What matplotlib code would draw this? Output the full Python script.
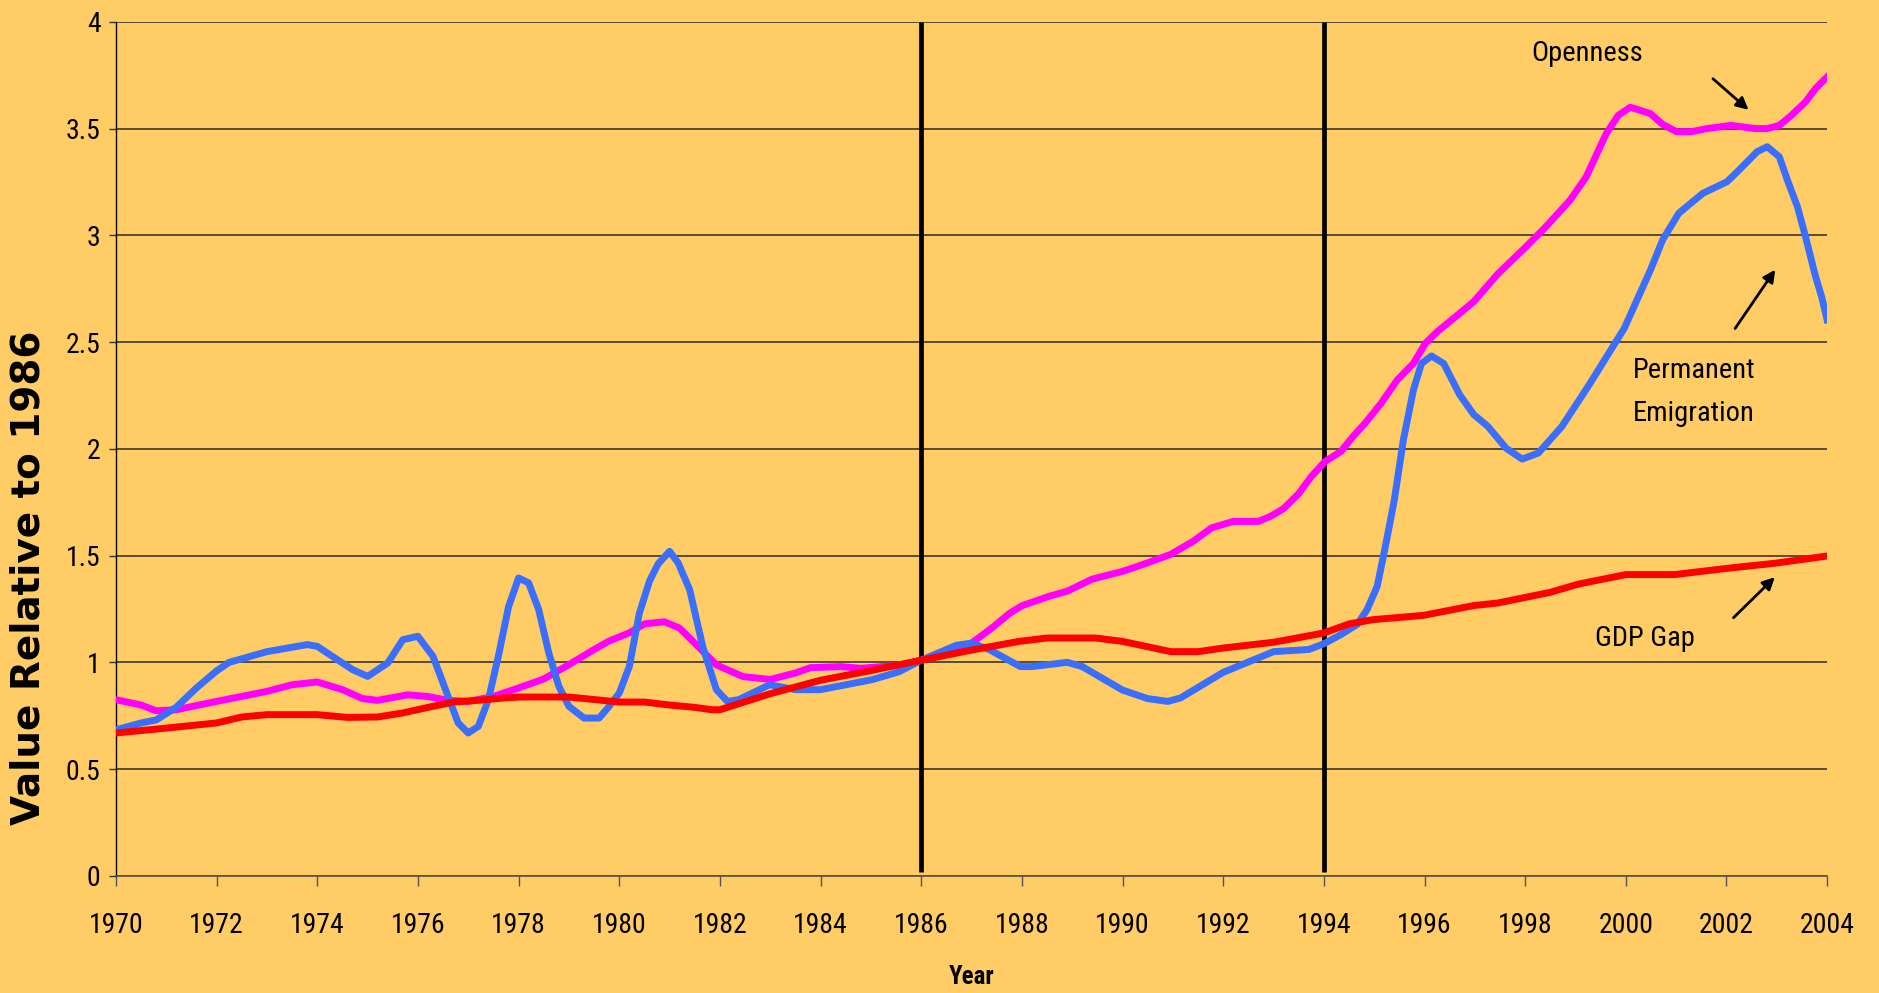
import matplotlib
matplotlib.use("Agg")
import matplotlib.pyplot as plt
from matplotlib import font_manager as fm

# Openness (magenta)
open_x = [1970, 1970.5, 1970.8, 1971.2, 1972, 1973, 1973.5, 1974, 1974.5, 1974.9,
          1975.2, 1975.8, 1976.2, 1976.6, 1977, 1977.5, 1978, 1978.5, 1979, 1979.5,
          1979.8, 1980.2, 1980.5, 1980.9, 1981.2, 1981.5, 1981.93, 1982.46, 1983, 1983.5,
          1983.8, 1984.4, 1984.8, 1985.6, 1986, 1987, 1987.4, 1987.76, 1988, 1988.55,
          1988.9, 1989.4, 1990, 1990.5, 1990.95, 1991.4, 1991.77, 1992.2, 1992.7, 1992.95,
          1993.2, 1993.5, 1993.75, 1994.02, 1994.34, 1994.58, 1994.82, 1995.14, 1995.46, 1995.78,
          1996.02, 1996.26, 1996.66, 1996.98, 1997.46, 1998.01, 1998.41, 1998.89, 1999.21, 1999.61,
          1999.85, 2000.09, 2000.49, 2000.73, 2001.01, 2001.29, 2001.61, 2002.09, 2002.57, 2002.81,
          2003.05, 2003.29, 2003.57, 2003.77, 2004]
open_y = [0.825, 0.80, 0.773, 0.778, 0.817, 0.864, 0.895, 0.908, 0.872, 0.83,
          0.822, 0.848, 0.84, 0.822, 0.817, 0.84, 0.88, 0.922, 0.989, 1.06,
          1.10, 1.138, 1.18, 1.19, 1.16, 1.09, 0.988, 0.933, 0.92, 0.95,
          0.975, 0.98, 0.972, 0.987, 1.01, 1.09, 1.16, 1.23, 1.265, 1.31,
          1.333, 1.39, 1.426, 1.466, 1.505, 1.566, 1.63, 1.66, 1.66, 1.685,
          1.72, 1.79, 1.87, 1.94, 1.988, 2.058, 2.12, 2.214, 2.323, 2.40,
          2.495, 2.55, 2.627, 2.69, 2.82, 2.945, 3.04, 3.164, 3.273, 3.476,
          3.562, 3.60, 3.57, 3.52, 3.485, 3.485, 3.50, 3.515, 3.50, 3.50,
          3.515, 3.562, 3.625, 3.688, 3.742]

# Permanent emigration (blue)
emig_x = [1970, 1970.5, 1970.8, 1971.2, 1971.6, 1972, 1972.25, 1973, 1973.8, 1974,
          1974.3, 1974.7, 1975, 1975.4, 1975.7, 1976, 1976.3, 1976.6, 1976.8, 1977,
          1977.2, 1977.4, 1977.6, 1977.8, 1978, 1978.2, 1978.4, 1978.6, 1978.8, 1979,
          1979.3, 1979.6, 1979.8, 1980, 1980.2, 1980.4, 1980.6, 1980.77, 1981.0, 1981.17,
          1981.4, 1981.66, 1981.93, 1982.15, 1982.37, 1982.99, 1983.5, 1984, 1985.03, 1985.56,
          1986, 1986.7, 1987, 1987.35, 1987.97, 1988.2, 1988.9, 1989.2, 1990, 1990.5,
          1990.9, 1991.15, 1992, 1993, 1993.7, 1994, 1994.34, 1994.66, 1994.86, 1995.06,
          1995.22, 1995.4, 1995.58, 1995.78, 1995.94, 1996.14, 1996.38, 1996.7, 1996.98, 1997.26,
          1997.62, 1997.94, 1998.26, 1998.73, 1999.29, 1999.97, 2000.49, 2000.73, 2001.05, 2001.53,
          2002.01, 2002.25, 2002.61, 2002.81, 2003.05, 2003.21, 2003.41, 2003.57, 2003.77, 2003.89,
          2004]
emig_y = [0.684, 0.716, 0.73, 0.79, 0.88, 0.96, 1.0, 1.05, 1.083, 1.075,
          1.028, 0.966, 0.934, 0.997, 1.106, 1.122, 1.028, 0.84, 0.716, 0.669,
          0.70, 0.825, 1.03, 1.26, 1.395, 1.372, 1.247, 1.044, 0.888, 0.794,
          0.739, 0.739, 0.794, 0.856, 0.98, 1.23, 1.38, 1.46, 1.52, 1.466,
          1.34, 1.073, 0.872, 0.817, 0.825, 0.895, 0.872, 0.872, 0.919, 0.956,
          1.01, 1.08, 1.09, 1.06, 0.98, 0.98, 1.00, 0.98, 0.87, 0.83,
          0.817, 0.833, 0.953, 1.05, 1.06, 1.087, 1.13, 1.177, 1.247, 1.356,
          1.54, 1.76, 2.042, 2.276, 2.40, 2.435, 2.40, 2.253, 2.16, 2.105,
          2.003, 1.952, 1.98, 2.105, 2.307, 2.565, 2.838, 2.978, 3.103, 3.197,
          3.251, 3.306, 3.392, 3.415, 3.368, 3.259, 3.134, 2.994, 2.807, 2.713,
          2.604]

# GDP gap (red)
gdp_x = [1970, 1971, 1972, 1972.5, 1973, 1974, 1974.6, 1975.2, 1975.7, 1976.2,
         1976.7, 1977.2, 1977.7, 1978, 1979, 1980, 1980.5, 1981, 1981.5, 1981.84,
         1982, 1982.46, 1983, 1984, 1985.03, 1986, 1986.97, 1987.94, 1988.5, 1989.46,
         1990, 1990.96, 1991.5, 1992, 1993, 1994, 1994.5, 1994.98, 1995.98, 1996.98,
         1997.46, 1998.5, 1999.05, 2000, 2000.97, 2002, 2002.96, 2004]
gdp_y = [0.669, 0.692, 0.716, 0.744, 0.755, 0.755, 0.742, 0.744, 0.763, 0.789,
         0.814, 0.822, 0.833, 0.8375, 0.8375, 0.814, 0.814, 0.80, 0.789, 0.778,
         0.778, 0.8125, 0.853, 0.916, 0.963, 1.01, 1.056, 1.098, 1.114, 1.114,
         1.098, 1.05, 1.05, 1.067, 1.094, 1.1375, 1.18, 1.20, 1.22, 1.266,
         1.278, 1.328, 1.366, 1.411, 1.411, 1.44, 1.464, 1.498]

break_years = [1986, 1994]
x_ticks = list(range(1970, 2005, 2))
y_ticks = [0, 0.5, 1, 1.5, 2, 2.5, 3, 3.5, 4]
y_tick_labels = ["0", "0.5", "1", "1.5", "2", "2.5", "3", "3.5", "4"]

bg = "#FFCC66"


def weight_num(w):
    if isinstance(w, str):
        return fm.weight_dict.get(w, 400)
    return w


def narrow_font(bold, size):
    # look for an Arial-Narrow-like condensed face, else plain Liberation Sans
    prefs = ["liberation sans narrow", "roboto condensed", "open sans condensed",
             "noto sans", "dejavu sans", "roboto", "open sans", "lato"]
    for pref in prefs:
        for f in fm.fontManager.ttflist:
            name = f.name.lower()
            if not name.startswith(pref) or f.style != "normal":
                continue
            condensed = ("condensed" in str(f.stretch) or "narrow" in name
                         or "condensed" in name or "condensed" in f.fname.lower())
            if not condensed:
                continue
            w = weight_num(f.weight)
            if (bold and w >= 600) or (not bold and 350 <= w <= 500):
                return fm.FontProperties(fname=f.fname, size=size)
    return fm.FontProperties(family="Liberation Sans",
                             weight="bold" if bold else "normal", size=size)


tick_font = narrow_font(False, 20)
note_font = narrow_font(False, 20.5)
year_font = narrow_font(True, 18)

fig = plt.figure(figsize=(18.79, 9.93), dpi=100, facecolor=bg)
ax = fig.add_axes([0.0617, 0.118, 0.9107, 0.860])
ax.set_facecolor(bg)

for yv in y_ticks:
    ax.axhline(yv, color="#2a2a2a", lw=1.1, zorder=1)

ax.vlines(break_years, 0.02, 4, color="black", lw=3.4, zorder=2)

ax.plot(open_x, open_y, color="#FF00FF", lw=5, zorder=3, solid_joinstyle="round")
ax.plot(emig_x, emig_y, color="#3A6EFF", lw=5, zorder=4, solid_joinstyle="round")
ax.plot(gdp_x, gdp_y, color="#FF0000", lw=5, zorder=5, solid_joinstyle="round")

ax.set_xlim(1970, 2004)
ax.set_ylim(0, 4)
ax.set_xticks(x_ticks)
ax.set_xticklabels([str(t) for t in x_ticks], fontproperties=tick_font)
ax.set_yticks(y_ticks)
ax.set_yticklabels(y_tick_labels, fontproperties=tick_font)
ax.tick_params(axis="x", length=7, width=1, pad=19, color="#555555")
ax.tick_params(axis="y", length=5, width=1, pad=6, color="#333333")

for side in ["top", "right"]:
    ax.spines[side].set_visible(False)
ax.spines["left"].set_color("black")
ax.spines["left"].set_linewidth(1)
ax.spines["bottom"].set_color("#555544")
ax.spines["bottom"].set_linewidth(1.2)

fig.text(0.0154, 0.418, "Value Relative to 1986", rotation=90, ha="center", va="center",
         family="DejaVu Sans", fontweight="bold", fontsize=28)
fig.text(0.517, 0.016, "Year", ha="center", va="center", fontproperties=year_font)

arrow = dict(arrowstyle="-|>", color="black", lw=2, mutation_scale=18)
ax.text(1999.24, 3.854, "Openness", ha="center", va="center", fontproperties=note_font)
ax.annotate("", xy=(2002.48, 3.579), xytext=(2001.69, 3.742), arrowprops=arrow)
ax.text(2001.36, 2.266, "Permanent\nEmigration", ha="center", va="center",
        fontproperties=note_font, linespacing=1.75)
ax.annotate("", xy=(2003.0, 2.85), xytext=(2002.14, 2.553), arrowprops=arrow)
ax.text(2000.38, 1.111, "GDP Gap", ha="center", va="center", fontproperties=note_font)
ax.annotate("", xy=(2003.0, 1.408), xytext=(2002.1, 1.20), arrowprops=arrow)

fig.savefig("out.png", dpi=100, facecolor=bg)
